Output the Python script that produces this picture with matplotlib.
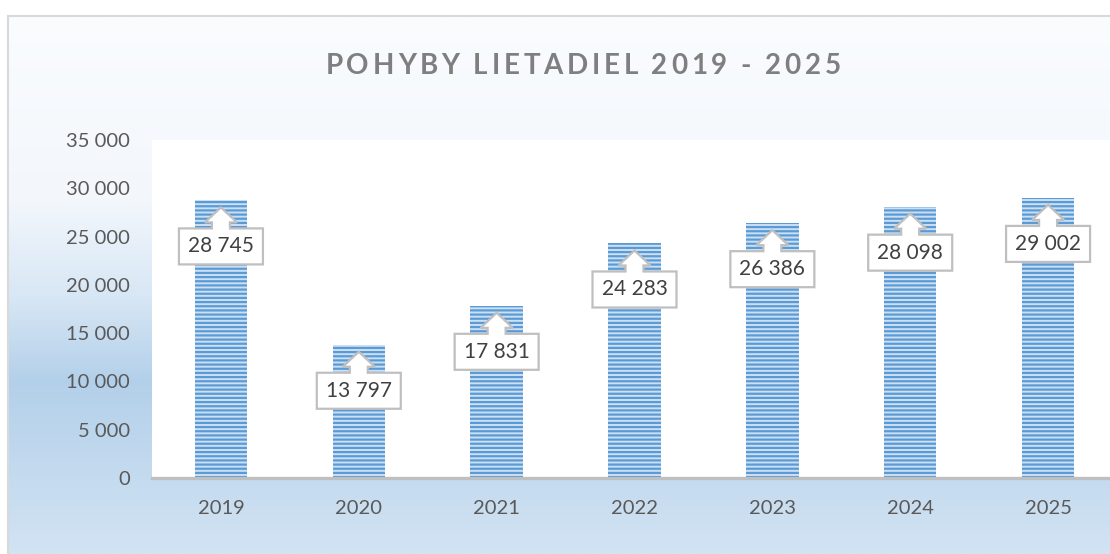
import numpy as np
import matplotlib
matplotlib.use("Agg")
import matplotlib.pyplot as plt
from matplotlib.patches import Polygon
from matplotlib.colors import LinearSegmentedColormap
import matplotlib.transforms as mtransforms

years = ["2019", "2020", "2021", "2022", "2023", "2024", "2025"]
movements = [28745, 13797, 17831, 24283, 26386, 28098, 29002]
yticks = [0, 5000, 10000, 15000, 20000, 25000, 30000, 35000]
title = "POHYBY LIETADIEL 2019 - 2025"

plt.rcParams["font.family"] = ["Lato", "DejaVu Sans"]
plt.rcParams["hatch.linewidth"] = 1.6

W, H = 1110, 554
fig = plt.figure(figsize=(W / 100, H / 100), dpi=100)
fig.patch.set_facecolor("white")

# chart area background with vertical gradient
bg = fig.add_axes([8 / W, 0, 1 - 8 / W, (H - 16) / H])
stops = [(0.0, "#fafcfe"), (0.34, "#f3f7fc"), (0.52, "#d8e7f5"),
         (0.68, "#b3d0ea"), (1.0, "#d2e3f3")]
cmap = LinearSegmentedColormap.from_list("bg", stops)
grad = np.linspace(0, 1, 400).reshape(-1, 1)
bg.imshow(grad, aspect="auto", cmap=cmap, extent=[0, 1, 0, 1], origin="upper")
bg.set_xlim(0, 1); bg.set_ylim(0, 1)
bg.set_xticks([]); bg.set_yticks([])
for s in ["right", "bottom"]:
    bg.spines[s].set_visible(False)
for s in ["left", "top"]:
    bg.spines[s].set_color("#d9d9d9")
    bg.spines[s].set_linewidth(1.5)

# plot area
left, right, top, bottom = 152, 1117, 140, 478
ax = fig.add_axes([left / W, (H - bottom) / H, (right - left) / W, (bottom - top) / H])
ax.set_facecolor("white")
x = np.arange(len(years))
ax.bar(x, movements, width=0.38, color="#cde0f3", edgecolor="#5b9bd5",
       linewidth=0, hatch="----", zorder=2)
ax.set_xlim(-0.5, len(years) - 0.5)
ax.set_ylim(0, 35000)
ax.set_yticks(yticks)
ax.set_yticklabels([f"{v:,}".replace(",", " ") for v in yticks])
ax.set_xticks(x)
ax.set_xticklabels(years)
ax.tick_params(length=0, labelsize=14.5, colors="#595959")
ax.tick_params(axis="y", pad=16)
ax.tick_params(axis="x", pad=16)
for s in ["left", "right", "top"]:
    ax.spines[s].set_visible(False)
ax.spines["bottom"].set_color("#bfbfbf")
ax.spines["bottom"].set_linewidth(2.4)

# up-arrow callouts (shape in pixels relative to bar top)
shape = np.array([(0, -7), (16, -22), (9, -22), (9, -28), (42, -28), (42, -64),
                  (-42, -64), (-42, -28), (-9, -28), (-9, -22), (-16, -22)]) / 100
for xi, v in zip(x, movements):
    trans = fig.dpi_scale_trans + mtransforms.ScaledTranslation(xi, v, ax.transData)
    ax.add_patch(Polygon(shape, closed=True, facecolor="white", edgecolor="#bfbfbf",
                         linewidth=1.6, transform=trans, zorder=3, clip_on=False))
    ax.text(0, -0.46, f"{v:,}".replace(",", " "), transform=trans, ha="center",
            va="center", fontsize=15, color="#404040", zorder=4)

# letter-spaced title
fig.canvas.draw()
r = fig.canvas.get_renderer()
spacing = 3.8
parts = []
for ch in title:
    t = fig.text(0, 0, ch, fontsize=20, fontweight="bold", color="#7f7f7f")
    bb = t.get_window_extent(r)
    parts.append((t, bb.width if ch != " " else 6))
total = sum(w for _, w in parts) + spacing * (len(parts) - 1)
cx = 583 - total / 2
for t, w in parts:
    t.set_position((cx / W, (H - 66) / H))
    t.set_va("center")
    cx += w + spacing

fig.savefig("out.png", dpi=100)
